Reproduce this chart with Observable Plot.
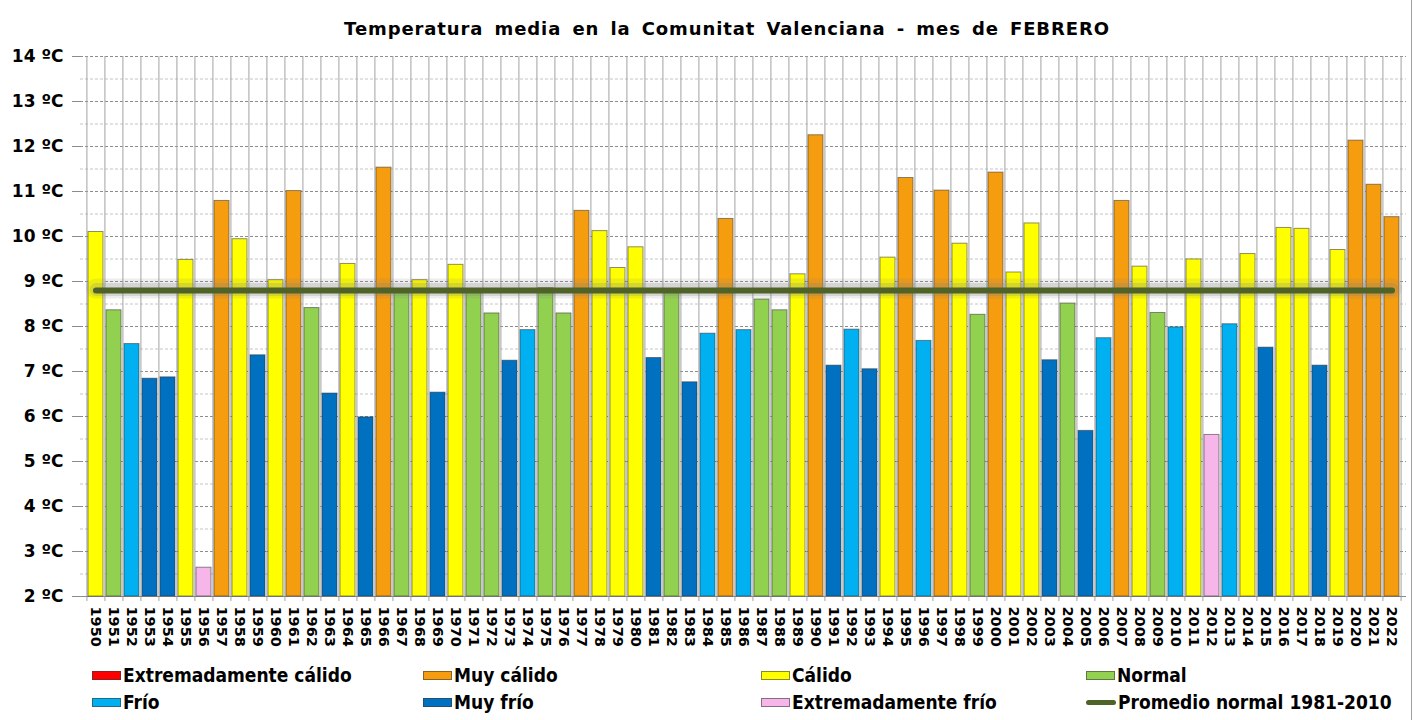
<!DOCTYPE html>
<html>
<head>
<meta charset="utf-8">
<script src="https://cdn.jsdelivr.net/npm/d3@7"></script>
<script src="https://cdn.jsdelivr.net/npm/@observablehq/plot@0.6"></script>
<style>
  body { margin: 0; background: #fff; }
  #wrap { position: relative; width: 1418px; height: 720px; overflow: hidden; background: #fff; }
  #title { position: absolute; left: 18px; top: 17px; width: 1418px; text-align: center;
           font-family: "DejaVu Sans", sans-serif; font-weight: bold; font-size: 18px; line-height: 24px;
           letter-spacing: 0.9px; word-spacing: 4px; color: #000; }
  #chart { position: absolute; left: 0; top: 45px; }
  .leg { position: absolute; display: flex; align-items: center; height: 24px;
         font-family: "DejaVu Sans Condensed", "DejaVu Sans", sans-serif; font-stretch: condensed;
         font-weight: bold; font-size: 19px; color: #000; white-space: nowrap; }
  .sw { width: 29px; height: 9px; margin-right: 2px; box-sizing: border-box; }
  .swl { width: 30px; height: 5px; border-radius: 3px; margin-right: 2px; }
  #edge { position: absolute; left: 1411px; top: 0; width: 1px; height: 720px; background: #a0a0a0; }
</style>
</head>
<body>
<div id="wrap">
  <div id="title">Temperatura media en la Comunitat Valenciana - mes de FEBRERO</div>
  <div id="chart"></div>
  <div id="legend"></div>
  <div id="edge"></div>
</div>
<script>
const years = ["1950","1951","1952","1953","1954","1955","1956","1957","1958","1959",
  "1960","1961","1962","1963","1964","1965","1966","1967","1968","1969",
  "1970","1971","1972","1973","1974","1975","1976","1977","1978","1979",
  "1980","1981","1982","1983","1984","1985","1986","1987","1988","1989",
  "1990","1991","1992","1993","1994","1995","1996","1997","1998","1999",
  "2000","2001","2002","2003","2004","2005","2006","2007","2008","2009",
  "2010","2011","2012","2013","2014","2015","2016","2017","2018","2019",
  "2020","2021","2022"];

const temps = [10.10, 8.36, 7.61, 6.84, 6.87, 9.48, 2.64, 10.79, 9.94, 7.36,
  9.03, 11.01, 8.41, 6.51, 9.39, 5.98, 11.53, 8.80, 9.03, 6.53,
  9.37, 8.75, 8.29, 7.24, 7.92, 8.85, 8.29, 10.57, 10.12, 9.30,
  9.76, 7.30, 8.80, 6.76, 7.84, 10.39, 7.92, 8.60, 8.36, 9.16,
  12.25, 7.13, 7.93, 7.05, 9.53, 11.30, 7.68, 11.02, 9.84, 8.26,
  11.42, 9.20, 10.29, 7.25, 8.51, 5.68, 7.74, 10.79, 9.33, 8.30,
  7.98, 9.49, 5.59, 8.05, 9.61, 7.53, 10.19, 10.17, 7.13, 9.70,
  12.13, 11.15, 10.43];

const classes = ["Cálido","Normal","Frío","Muy frío","Muy frío","Cálido","Extremadamente frío","Muy cálido","Cálido","Muy frío",
  "Cálido","Muy cálido","Normal","Muy frío","Cálido","Muy frío","Muy cálido","Normal","Cálido","Muy frío",
  "Cálido","Normal","Normal","Muy frío","Frío","Normal","Normal","Muy cálido","Cálido","Cálido",
  "Cálido","Muy frío","Normal","Muy frío","Frío","Muy cálido","Frío","Normal","Normal","Cálido",
  "Muy cálido","Muy frío","Frío","Muy frío","Cálido","Muy cálido","Frío","Muy cálido","Cálido","Normal",
  "Muy cálido","Cálido","Cálido","Muy frío","Normal","Muy frío","Frío","Muy cálido","Cálido","Normal",
  "Frío","Cálido","Extremadamente frío","Frío","Cálido","Muy frío","Cálido","Cálido","Muy frío","Cálido",
  "Muy cálido","Muy cálido","Muy cálido"];

const categories = ["Extremadamente cálido","Muy cálido","Cálido","Normal","Frío","Muy frío","Extremadamente frío"];
const catColors  = ["#ff0000","#f59d0e","#ffff00","#92d050","#00b0f0","#0070c0","#f6b6ea"];
const promedio = 8.8;
const promedioLabel = "Promedio normal 1981-2010";
const promedioColor = "#4f6228";

const yTicks = [2,3,4,5,6,7,8,9,10,11,12,13,14];
const yHalfTicks = [2.5,3.5,4.5,5.5,6.5,7.5,8.5,9.5,10.5,11.5,12.5,13.5];

const rows = years.map((y, i) => ({year: y, value: temps[i], cat: classes[i]}));

const W = 1418, mL = 80, mR = 12, mT = 11, mB = 60;
const step = (W - mL - mR) / years.length;

const chart = Plot.plot({
  width: W,
  height: mT + 540 + mB,
  marginTop: mT, marginBottom: mB, marginLeft: mL, marginRight: mR,
  style: {fontFamily: "DejaVu Sans, sans-serif", background: "transparent", color: "#000", overflow: "visible"},
  x: {domain: years, paddingInner: 0.17, paddingOuter: 0.085},
  y: {domain: [2, 14]},
  color: {domain: categories, range: catColors},
  marks: [
    Plot.ruleY(yHalfTicks, {stroke: "#c4c4c4", strokeDasharray: "3,2"}),
    Plot.ruleY(yTicks.slice(1), {stroke: "#8c8c8c", strokeDasharray: "3,2"}),
    Plot.ruleX(years, {dx: -step / 2, stroke: "#a3a3a3", insetBottom: -5}),
    Plot.ruleX(years.slice(-1), {dx: step / 2, stroke: "#a3a3a3", insetBottom: -5}),
    Plot.ruleY(yTicks.slice(0, 1), {stroke: "#8c8c8c"}),
    Plot.barY(rows, {x: "year", y1: 2, y2: "value", fill: "cat", stroke: "#333", strokeOpacity: 0.55, strokeWidth: 1}),
    Plot.lineY(rows, {x: "year", y: () => promedio, stroke: "#808080", strokeWidth: 20, strokeOpacity: 0.14, dy: -2}),
    Plot.lineY(rows, {x: "year", y: () => promedio, stroke: "#808080", strokeWidth: 13, strokeOpacity: 0.22, dy: -1}),
    Plot.lineY(rows, {x: "year", y: () => promedio, stroke: promedioColor, strokeWidth: 6, strokeLinecap: "round"}),
    Plot.axisX({tickRotate: 90, tickSize: 0, tickPadding: 10, fontSize: 14.5, fontWeight: "bold", label: null}),
    Plot.axisY({ticks: yTicks, tickFormat: d => `${d} ºC`, tickSize: 8, tickPadding: 9, fontSize: 17, fontWeight: "bold", stroke: "#8c8c8c", label: null})
  ]
});
document.getElementById("chart").appendChild(chart);

// Legend (HTML, below the plot)
const legendItems = [
  [categories[0], 92, 675], [categories[1], 423, 675], [categories[2], 761, 675], [categories[3], 1086, 675],
  [categories[4], 92, 702], [categories[5], 423, 702], [categories[6], 761, 702], [promedioLabel, 1086, 702]
];
const leg = document.getElementById("legend");
for (const [name, lx, ly] of legendItems) {
  const d = document.createElement("div");
  d.className = "leg";
  d.style.left = lx + "px";
  d.style.top = (ly - 12) + "px";
  const s = document.createElement("span");
  if (name === promedioLabel) {
    s.className = "swl";
    s.style.background = promedioColor;
  } else {
    s.className = "sw";
    s.style.background = catColors[categories.indexOf(name)];
    s.style.border = "1px solid rgba(60,60,60,0.6)";
  }
  d.appendChild(s);
  const t = document.createElement("span");
  t.textContent = name;
  d.appendChild(t);
  leg.appendChild(d);
}
</script>
</body>
</html>
